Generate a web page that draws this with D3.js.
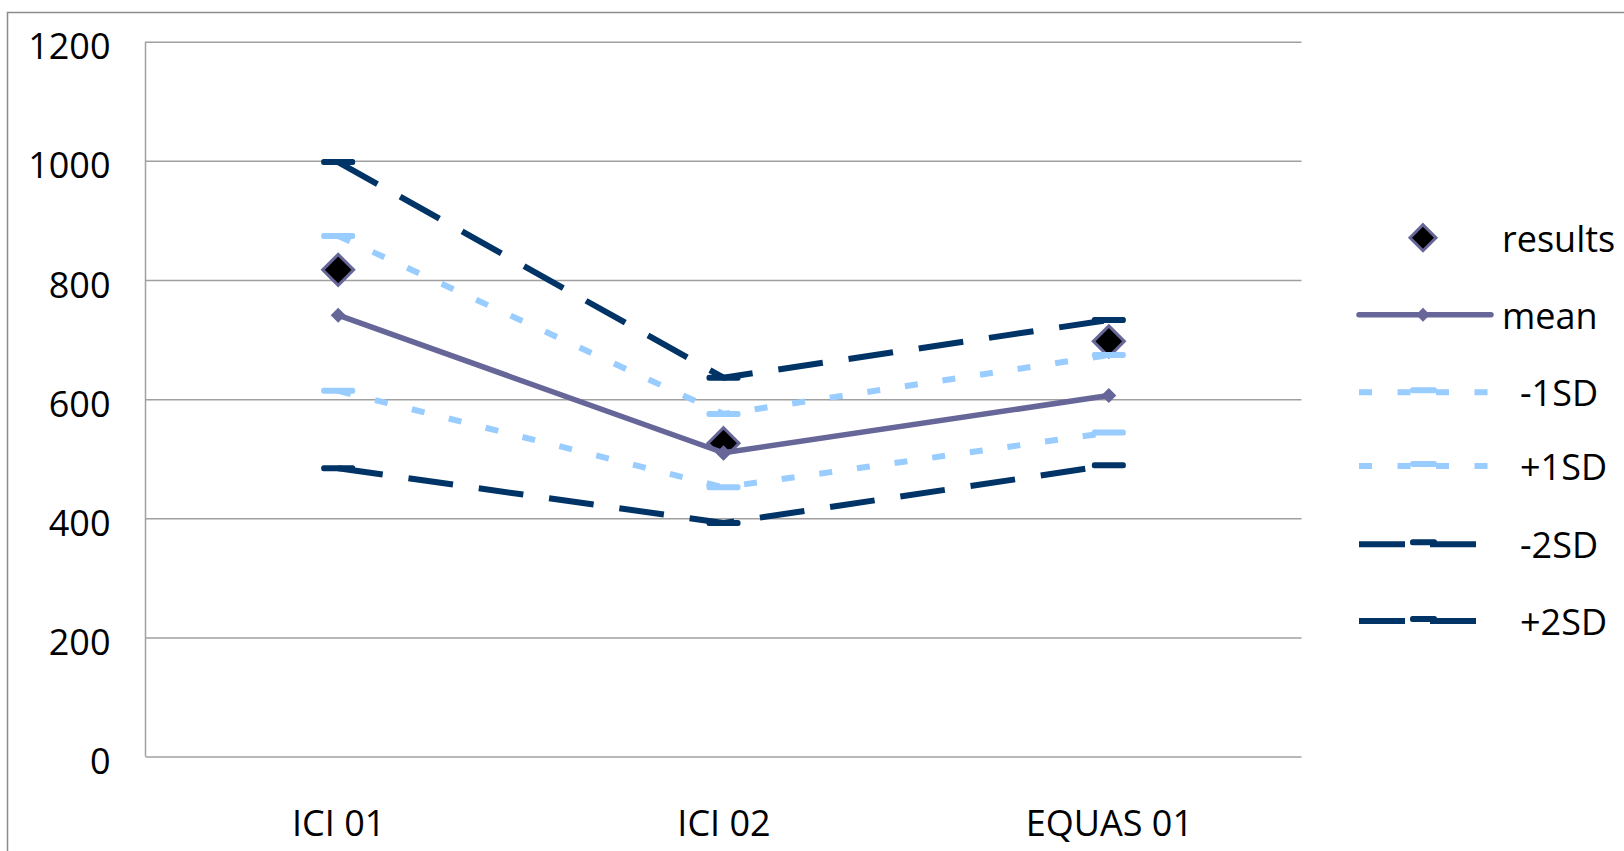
<!DOCTYPE html>
<html>
<head>
<meta charset="utf-8">
<script src="https://cdn.jsdelivr.net/npm/d3@7"></script>
<style>
  html, body { margin: 0; padding: 0; background: #fff; }
  svg { display: block; }
  text { font-family: "Open Sans", "Liberation Sans", sans-serif; fill: #000; }
</style>
</head>
<body>
<svg id="chart" width="1624" height="851"></svg>
<script>
// Laboratories / schemes on the category axis
const categories = ["ICI 01", "ICI 02", "EQUAS 01"];

// Series values
const results  = [817, 526, 697];
const mean     = [741, 510, 606];
const minus1SD = [614, 452, 544];
const plus1SD  = [874, 575, 674];
const minus2SD = [484, 392, 489];
const plus2SD  = [998, 636, 733];

// Value axis ticks
const yTicks = [0, 200, 400, 600, 800, 1000, 1200];

const COLORS = { mean: "#666699", sd1: "#99CCFF", sd2: "#003366", grid: "#a0a0a0" };

const svg = d3.select("#chart");
const W = 1624, H = 851;
const plot = { left: 145.5, right: 1301.5, top: 41.7, bottom: 756.6 };

// Outer chart frame (left and top edges fall inside the canvas)
svg.append("path")
  .attr("d", `M7.5,${H} L7.5,12.5 L${W},12.5`)
  .attr("fill", "none").attr("stroke", "#8c8c8c").attr("stroke-width", 1.5);

const x = d3.scalePoint().domain(categories).range([plot.left, plot.right]).padding(0.5);
const y = d3.scaleLinear().domain([0, 1200]).range([plot.bottom, plot.top]);

// Horizontal gridlines + value labels
const yAxis = svg.append("g")
  .attr("transform", `translate(${plot.left},0)`)
  .call(d3.axisLeft(y).tickValues(yTicks).tickFormat(d3.format("d"))
    .tickSize(-(plot.right - plot.left)).tickPadding(35));
yAxis.select(".domain").remove();
yAxis.selectAll(".tick line").attr("stroke", COLORS.grid).attr("stroke-width", 1.5);
yAxis.selectAll(".tick text")
  .attr("dy", "17px").attr("font-size", 36).attr("font-family", null);

// Vertical axis line at the left of the plot area
svg.append("line")
  .attr("x1", plot.left).attr("x2", plot.left)
  .attr("y1", plot.top).attr("y2", plot.bottom)
  .attr("stroke", COLORS.grid).attr("stroke-width", 1.5);

// Category labels
const xAxis = svg.append("g")
  .attr("transform", `translate(0,${plot.bottom})`)
  .call(d3.axisBottom(x).tickSize(0));
xAxis.select(".domain").remove();
xAxis.selectAll(".tick text")
  .attr("y", 79).attr("dy", 0).attr("font-size", 36).attr("font-family", null);

const line = d3.line().x((d, i) => x(categories[i])).y(d => y(d)).curve(d3.curveLinear);

function diamondPath(cx, cy, r) {
  return `M${cx},${cy - r} L${cx + r},${cy} L${cx},${cy + r} L${cx - r},${cy} Z`;
}

// Results: large black diamonds with a purple outline
svg.append("g").selectAll("path").data(results).join("path")
  .attr("d", (d, i) => diamondPath(x(categories[i]), y(d), 15.5))
  .attr("fill", "#000").attr("stroke", COLORS.mean).attr("stroke-width", 3);

// Mean: solid line with small diamond markers
svg.append("path").datum(mean)
  .attr("d", line).attr("fill", "none")
  .attr("stroke", COLORS.mean).attr("stroke-width", 5.5)
  .attr("stroke-linejoin", "round").attr("stroke-linecap", "round");
svg.append("g").selectAll("path").data(mean).join("path")
  .attr("d", (d, i) => diamondPath(x(categories[i]), y(d), 7.5))
  .attr("fill", COLORS.mean);

// SD bands: dashed lines with short horizontal dash markers at each point
const sdSeries = [
  { values: minus1SD, color: COLORS.sd1, dash: "13,25" },
  { values: plus1SD,  color: COLORS.sd1, dash: "13,25" },
  { values: minus2SD, color: COLORS.sd2, dash: "45,26" },
  { values: plus2SD,  color: COLORS.sd2, dash: "45,26" }
];
sdSeries.forEach(s => {
  svg.append("path").datum(s.values)
    .attr("d", line).attr("fill", "none")
    .attr("stroke", s.color).attr("stroke-width", 6)
    .attr("stroke-dasharray", s.dash).attr("stroke-linejoin", "round");
  svg.append("g").selectAll("rect").data(s.values).join("rect")
    .attr("x", (d, i) => x(categories[i]) - 17)
    .attr("y", d => y(d) - 3)
    .attr("width", 34).attr("height", 6).attr("rx", 2.5)
    .attr("fill", s.color);
});

// Legend
const legendItems = [
  { name: "results", kind: "results", cy: 237.7, tx: 1502 },
  { name: "mean",    kind: "mean",    cy: 314.7, tx: 1502 },
  { name: "-1SD",    kind: "sd1",     cy: 392.3, tx: 1520 },
  { name: "+1SD",    kind: "sd1",     cy: 466,   tx: 1520 },
  { name: "-2SD",    kind: "sd2",     cy: 544.3, tx: 1520 },
  { name: "+2SD",    kind: "sd2",     cy: 621,   tx: 1520 }
];
const lg = svg.append("g");
const lcx = 1423;
legendItems.forEach(it => {
  if (it.kind === "results") {
    lg.append("path").attr("d", diamondPath(lcx, it.cy, 13))
      .attr("fill", "#000").attr("stroke", COLORS.mean).attr("stroke-width", 3);
  } else if (it.kind === "mean") {
    lg.append("line").attr("x1", 1359).attr("x2", 1491).attr("y1", it.cy).attr("y2", it.cy)
      .attr("stroke", COLORS.mean).attr("stroke-width", 5.5).attr("stroke-linecap", "round");
    lg.append("path").attr("d", diamondPath(lcx, it.cy, 7)).attr("fill", COLORS.mean);
  } else if (it.kind === "sd1") {
    lg.append("line").attr("x1", 1359).attr("x2", 1488).attr("y1", it.cy).attr("y2", it.cy)
      .attr("stroke", COLORS.sd1).attr("stroke-width", 6).attr("stroke-dasharray", "13,25.5");
    lg.append("rect").attr("x", lcx - 13).attr("y", it.cy - 5).attr("width", 27).attr("height", 6)
      .attr("rx", 2.5).attr("fill", COLORS.sd1);
  } else {
    lg.append("line").attr("x1", 1359).attr("x2", 1476).attr("y1", it.cy).attr("y2", it.cy)
      .attr("stroke", COLORS.sd2).attr("stroke-width", 6).attr("stroke-dasharray", "46,25");
    lg.append("rect").attr("x", lcx - 13).attr("y", it.cy - 5).attr("width", 27).attr("height", 6)
      .attr("rx", 2.5).attr("fill", COLORS.sd2);
  }
  lg.append("text").attr("x", it.tx).attr("y", it.cy + 14)
    .attr("font-size", 36).text(it.name);
});
</script>
</body>
</html>
